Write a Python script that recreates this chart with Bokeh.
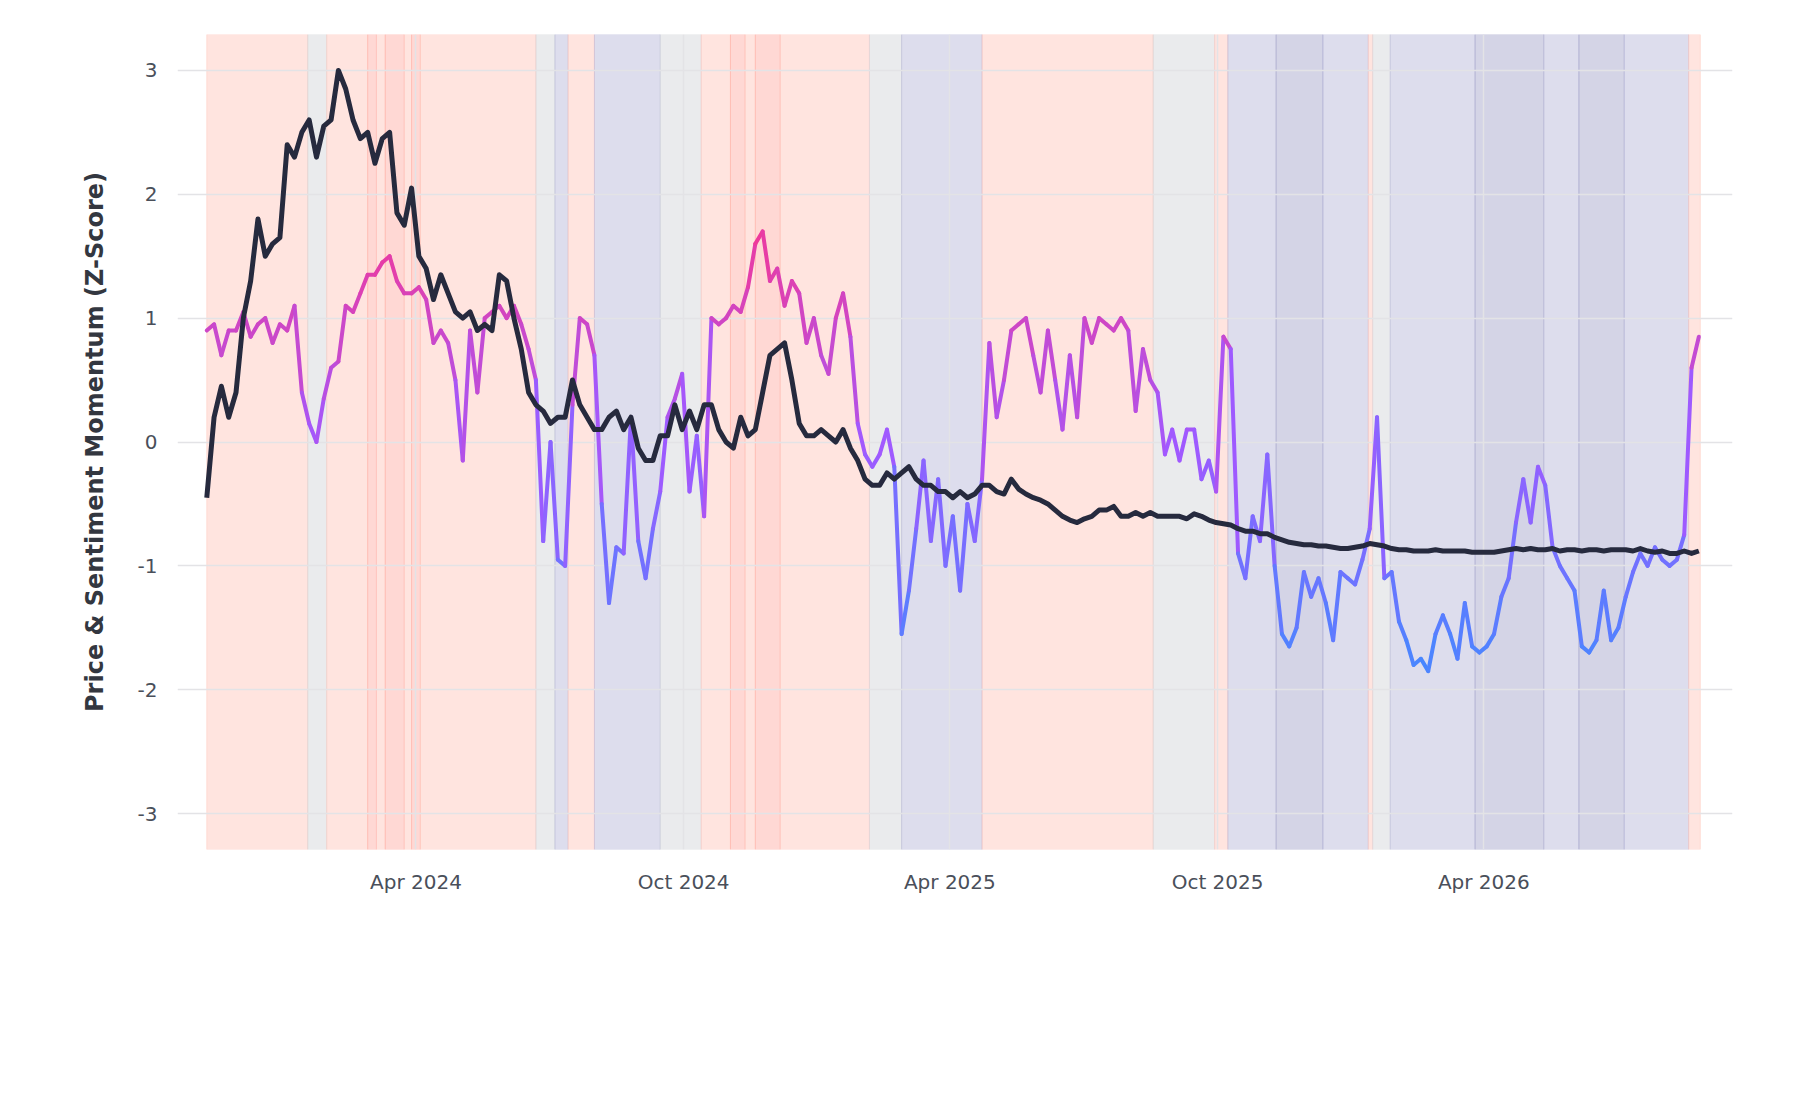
import numpy as np
import pandas as pd
from bokeh.plotting import figure
from bokeh.models import (ColumnDataSource, FixedTicker, DatetimeTickFormatter, Legend,
                          LegendItem, Title, Range1d, CustomJSTickFormatter)
from bokeh.embed import file_html
from bokeh.resources import INLINE

start_date = "2023-11-10"
step_days = 5

price = [-0.45,0.2,0.45,0.2,0.4,1.0,1.3,1.8,1.5,1.6,1.65,2.4,2.3,2.5,2.6,2.3,2.55,2.6,3.0,2.85,
         2.6,2.45,2.5,2.25,2.45,2.5,1.85,1.75,2.05,1.5,1.4,1.15,1.35,1.2,1.05,1.0,1.05,0.9,0.95,0.9,
         1.35,1.3,1.0,0.75,0.4,0.3,0.25,0.15,0.2,0.2,0.5,0.3,0.2,0.1,0.1,0.2,0.25,0.1,0.2,-0.05,
         -0.15,-0.15,0.05,0.05,0.3,0.1,0.25,0.1,0.3,0.3,0.1,0.0,-0.05,0.2,0.05,0.1,0.4,0.7,0.75,0.8,
         0.5,0.15,0.05,0.05,0.1,0.05,0.0,0.1,-0.05,-0.15,-0.3,-0.35,-0.35,-0.25,-0.3,-0.25,-0.2,-0.3,-0.35,-0.35,
         -0.4,-0.4,-0.45,-0.4,-0.45,-0.42,-0.35,-0.35,-0.4,-0.42,-0.3,-0.38,-0.42,-0.45,-0.47,-0.5,-0.55,-0.6,-0.63,-0.65,
         -0.62,-0.6,-0.55,-0.55,-0.52,-0.6,-0.6,-0.57,-0.6,-0.57,-0.6,-0.6,-0.6,-0.6,-0.62,-0.58,-0.6,-0.63,-0.65,-0.66,
         -0.67,-0.7,-0.72,-0.72,-0.74,-0.74,-0.77,-0.79,-0.81,-0.82,-0.83,-0.83,-0.84,-0.84,-0.85,-0.86,-0.86,-0.85,-0.84,-0.82,
         -0.83,-0.84,-0.86,-0.87,-0.87,-0.88,-0.88,-0.88,-0.87,-0.88,-0.88,-0.88,-0.88,-0.89,-0.89,-0.89,-0.89,-0.88,-0.87,-0.86,
         -0.87,-0.86,-0.87,-0.87,-0.86,-0.88,-0.87,-0.87,-0.88,-0.87,-0.87,-0.88,-0.87,-0.87,-0.87,-0.88,-0.86,-0.88,-0.89,-0.88,
         -0.9,-0.9,-0.88,-0.9,-0.88]

sentiment = [0.9,0.95,0.7,0.9,0.9,1.05,0.85,0.95,1.0,0.8,0.95,0.9,1.1,0.4,0.15,0.0,0.35,0.6,0.65,1.1,
             1.05,1.2,1.35,1.35,1.45,1.5,1.3,1.2,1.2,1.25,1.15,0.8,0.9,0.8,0.5,-0.15,0.9,0.4,1.0,1.05,
             1.1,1.0,1.1,0.95,0.75,0.5,-0.8,0.0,-0.95,-1.0,0.3,1.0,0.95,0.7,-0.5,-1.3,-0.85,-0.9,0.2,-0.8,
             -1.1,-0.7,-0.4,0.2,0.35,0.55,-0.4,0.05,-0.6,1.0,0.95,1.0,1.1,1.05,1.25,1.6,1.7,1.3,1.4,1.1,
             1.3,1.2,0.8,1.0,0.7,0.55,1.0,1.2,0.85,0.15,-0.1,-0.2,-0.1,0.1,-0.2,-1.55,-1.2,-0.7,-0.15,-0.8,
             -0.3,-1.0,-0.6,-1.2,-0.5,-0.8,-0.3,0.8,0.2,0.5,0.9,0.95,1.0,0.7,0.4,0.9,0.5,0.1,0.7,0.2,
             1.0,0.8,1.0,0.95,0.9,1.0,0.9,0.25,0.75,0.5,0.4,-0.1,0.1,-0.15,0.1,0.1,-0.3,-0.15,-0.4,0.85,
             0.75,-0.9,-1.1,-0.6,-0.8,-0.1,-1.0,-1.55,-1.65,-1.5,-1.05,-1.25,-1.1,-1.3,-1.6,-1.05,-1.1,-1.15,-0.95,-0.7,
             0.2,-1.1,-1.05,-1.45,-1.6,-1.8,-1.75,-1.85,-1.55,-1.4,-1.55,-1.75,-1.3,-1.65,-1.7,-1.65,-1.55,-1.25,-1.1,-0.65,
             -0.3,-0.65,-0.2,-0.35,-0.85,-1.0,-1.1,-1.2,-1.65,-1.7,-1.6,-1.2,-1.6,-1.5,-1.25,-1.05,-0.9,-1.0,-0.85,-0.95,
             -1.0,-0.95,-0.75,0.6,0.85]

regime_start_day = [0,69,82,110,116,122,135,140,146,225,238,247,265,310,338,358,368,375,392,453,
                    475,530,647,689,698,731,763,794,797,809,867,914,938,969,1013]
regime_name = ["Greed","Neutral","Greed","Euphoria","Greed","Euphoria","Greed","Euphoria","Greed","Neutral",
               "Fear","Greed","Fear","Neutral","Greed","Euphoria","Greed","Euphoria","Greed","Neutral",
               "Fear","Greed","Neutral","Greed","Fear","Panic","Fear","Greed","Neutral","Fear",
               "Panic","Fear","Panic","Fear","Greed"]
regime_end_day = 1021

legend_names = ["Panic","Fear","Neutral","Greed","Euphoria"]
regime_colors = {"Panic":"#a0a0c8","Fear":"#b3b3d6","Neutral":"#d0d3d8","Greed":"#ffc4b8","Euphoria":"#ffa8a0"}

y_ticks = [-3,-2,-1,0,1,2,3]
x_tick_dates = ["2024-04-01","2024-10-01","2025-04-01","2025-10-01","2026-04-01"]
caption = "Regime Signal: Greed as of 2026-08-26"

t0 = pd.Timestamp(start_date)
dates = t0 + pd.to_timedelta(np.arange(len(price)) * step_days, unit="D")

Y0, Y1 = -3.29, 3.29
p = figure(frame_width=1555, frame_height=815, x_axis_type="datetime", output_backend="svg",
           toolbar_location=None, min_border_left=177, min_border_right=52,
           min_border_top=34, min_border_bottom=0,
           x_range=Range1d(t0 - pd.Timedelta(days=20), t0 + pd.Timedelta(days=1043)),
           y_range=Range1d(Y0, Y1))
p.outline_line_color = None
p.background_fill_color = "white"

# regime bands
lefts = [t0 + pd.Timedelta(days=d) for d in regime_start_day]
rights = lefts[1:] + [t0 + pd.Timedelta(days=regime_end_day)]
band_src = ColumnDataSource(dict(left=lefts, right=rights, top=[Y1]*len(lefts), bottom=[Y0]*len(lefts),
                                 color=[regime_colors[r] for r in regime_name]))
p.quad(left="left", right="right", top="top", bottom="bottom", fill_color="color", line_color="color",
       line_alpha=0.45, fill_alpha=0.45, source=band_src, level="image")

# legend swatches (a single point placed outside the visible range)
items = []
far = [t0 - pd.Timedelta(days=5000)]
for nm in legend_names:
    r = p.scatter(x=far, y=[0], marker="square", size=28, fill_color=regime_colors[nm], line_color=None)
    items.append(LegendItem(label=nm, renderers=[r]))

# sentiment gradient line
stops_c = [(0x3f, 0x8c, 0xff), (0xa2, 0x59, 0xff), (0xff, 0x33, 0x88)]
def cmap(v):
    v = max(-2.0, min(2.0, v))
    if v <= 0:
        f = (v + 2) / 2; a, b = stops_c[0], stops_c[1]
    else:
        f = v / 2; a, b = stops_c[1], stops_c[2]
    return "#%02x%02x%02x" % tuple(int(a[i] + (b[i] - a[i]) * f) for i in range(3))
s = np.array(sentiment)
seg = ColumnDataSource(dict(x0=dates[:-1], x1=dates[1:], y0=s[:-1], y1=s[1:],
                            c=[cmap((s[i] + s[i+1]) / 2) for i in range(len(s) - 1)]))
p.segment(x0="x0", y0="y0", x1="x1", y1="y1", line_color="c", line_width=4, line_cap="round", source=seg)

# price line
p.line(dates, price, line_color="#262a3e", line_width=5, line_join="round")

# axes
p.xaxis.ticker = FixedTicker(ticks=[pd.Timestamp(d).value / 1e6 for d in x_tick_dates])
p.xaxis.formatter = DatetimeTickFormatter(days="%b %Y", months="%b %Y", years="%b %Y")
p.yaxis.ticker = FixedTicker(ticks=y_ticks)
p.yaxis.formatter = CustomJSTickFormatter(code="return tick.toFixed(0);")
for ax in (p.xaxis[0], p.yaxis[0]):
    ax.axis_line_color = None
    ax.major_tick_line_color = None
    ax.minor_tick_line_color = None
    ax.major_label_text_font = "DejaVu Sans"
    ax.major_label_text_font_size = "20px"
    ax.major_label_text_color = "#4a4f5a"
p.xaxis.major_label_standoff = 14
p.yaxis.major_label_standoff = 14
p.yaxis.axis_label = "Price & Sentiment Momentum (Z-Score)"
p.yaxis.axis_label_text_font = "DejaVu Sans"
p.yaxis.axis_label_text_font_style = "bold"
p.yaxis.axis_label_text_font_size = "24px"
p.yaxis.axis_label_text_color = "#333740"
p.yaxis.axis_label_standoff = 26
p.xgrid.grid_line_color = "#e3e3e6"
p.ygrid.grid_line_color = "#e3e3e6"
p.xgrid.grid_line_width = 1.5
p.ygrid.grid_line_width = 1.5

legend = Legend(items=items, orientation="horizontal", location="center",
                label_text_font="DejaVu Sans", label_text_font_size="24px", label_text_color="#333740",
                glyph_width=28, glyph_height=28, spacing=22, label_standoff=16,
                border_line_color=None, background_fill_alpha=0, padding=0)
legend.margin = 55
p.add_layout(legend, "below")

t = Title(text=caption, align="left", text_font="DejaVu Sans", text_font_size="24px",
          text_font_style="normal", text_color="#7a7f8a", offset=0, standoff=8)
p.add_layout(t, "below")

open("out.html", "w").write(file_html(p, INLINE))
